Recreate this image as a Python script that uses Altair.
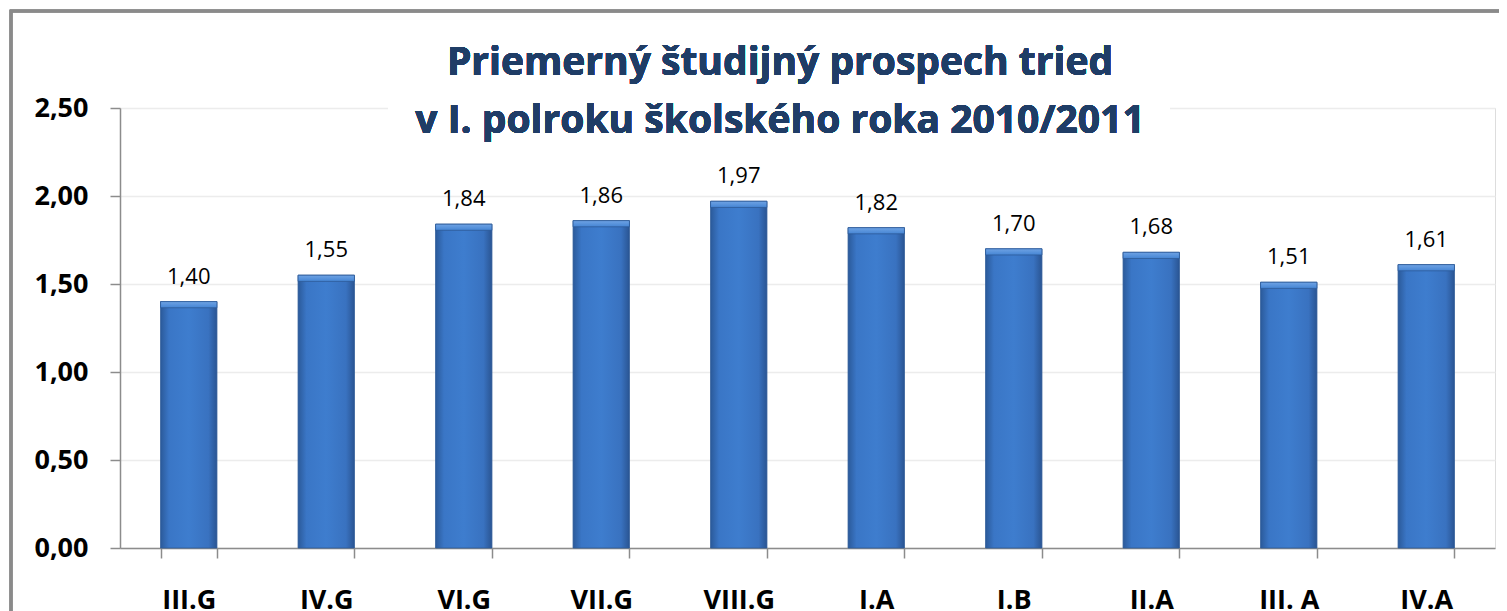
import altair as alt
import pandas as pd

categories = ["III.G", "IV.G", "VI.G", "VII.G", "VIII.G", "I.A", "I.B", "II.A", "III. A", "IV.A"]
values = [1.40, 1.55, 1.84, 1.86, 1.97, 1.82, 1.70, 1.68, 1.51, 1.61]
y_ticks = [0, 0.5, 1.0, 1.5, 2.0, 2.5]
title_lines = ["Priemerný študijný prospech tried", "v I. polroku školského roka 2010/2011"]

df = pd.DataFrame({"trieda": categories, "prospech": values})

W, H = 1375, 440

x_enc = alt.X("trieda:N", sort=categories, title=None,
              scale=alt.Scale(paddingInner=0.59, paddingOuter=0.295),
              axis=alt.Axis(labelAngle=0, labelFont="Open Sans", labelFontWeight="bold",
                            labelFontSize=27, labelColor="#000000", labelBaseline="alphabetic",
                            labelPadding=50, tickBand="extent", tickSize=10, tickColor="#8c8c8c",
                            tickWidth=1.5, domainColor="#8c8c8c", domainWidth=1.5, grid=False))
y_enc = alt.Y("prospech:Q", title=None,
              scale=alt.Scale(domain=[0, 2.5], nice=False),
              axis=alt.Axis(values=y_ticks, labelExpr="replace(format(datum.value, '.2f'), '.', ',')",
                            labelFont="Open Sans", labelFontWeight="bold", labelFontSize=27,
                            labelColor="#000000", labelPadding=22, tickSize=10, tickColor="#8c8c8c",
                            tickWidth=1.5, domainColor="#8c8c8c", domainWidth=1.5,
                            grid=True, gridColor="#ececec", gridWidth=1.5))

frame = alt.Chart(df).mark_rect(fill="transparent", stroke="#8a8a8a", strokeWidth=2.5).encode(
    x=alt.value(-109), x2=alt.value(W + 60), y=alt.value(-97), y2=alt.value(H + 120)
)

bars = alt.Chart(df).mark_bar(
    color=alt.Gradient(gradient="linear", x1=0, x2=1, y1=0, y2=0,
                       stops=[alt.GradientStop(color="#2b5a9a", offset=0),
                              alt.GradientStop(color="#3a76c6", offset=0.15),
                              alt.GradientStop(color="#3e7dce", offset=0.5),
                              alt.GradientStop(color="#3972c0", offset=0.85),
                              alt.GradientStop(color="#2a5593", offset=1)]),
    stroke="#2d5b98", strokeWidth=0.8
).encode(x=x_enc, y=y_enc)

bevel = alt.Chart(df).mark_bar(
    color=alt.Gradient(gradient="linear", x1=0, x2=0, y1=0, y2=1,
                       stops=[alt.GradientStop(color="#6fa3e4", offset=0),
                              alt.GradientStop(color="#4585d4", offset=1)]),
    stroke="#2d5b98", strokeWidth=0.8
).encode(
    x=alt.X("trieda:N", sort=categories),
    y=alt.Y("prospech:Q"),
    y2=alt.Y2("top:Q"),
).transform_calculate(top="datum.prospech - 0.035")

labels = alt.Chart(df).mark_text(
    font="Open Sans", fontSize=22, color="#000000", baseline="alphabetic", dy=-18
).encode(
    x=alt.X("trieda:N", sort=categories),
    y=alt.Y("prospech:Q"),
    text=alt.Text("lbl:N"),
).transform_calculate(lbl="replace(format(datum.prospech, '.2f'), '.', ',')")

title_box = alt.Chart(df).mark_rect(fill="#ffffff").encode(
    x=alt.value(268), x2=alt.value(1050), y=alt.value(-75), y2=alt.value(38)
)

title = alt.Chart(df).mark_text(
    font="Open Sans", fontWeight="bold", fontSize=39, color="#1f3d66",
    baseline="alphabetic", align="center", lineHeight=58
).encode(x=alt.value(660), y=alt.value(-33), text=alt.value(title_lines))

chart = alt.layer(frame, bars, bevel, labels, title_box, title).properties(
    width=W, height=H,
    autosize=alt.AutoSizeParams(type="none"),
    padding={"left": 112, "top": 100, "right": 4, "bottom": 63},
).configure_view(stroke=None).configure(background="#ffffff")

chart.save("out.html", embed_options={"renderer": "svg", "actions": False})
